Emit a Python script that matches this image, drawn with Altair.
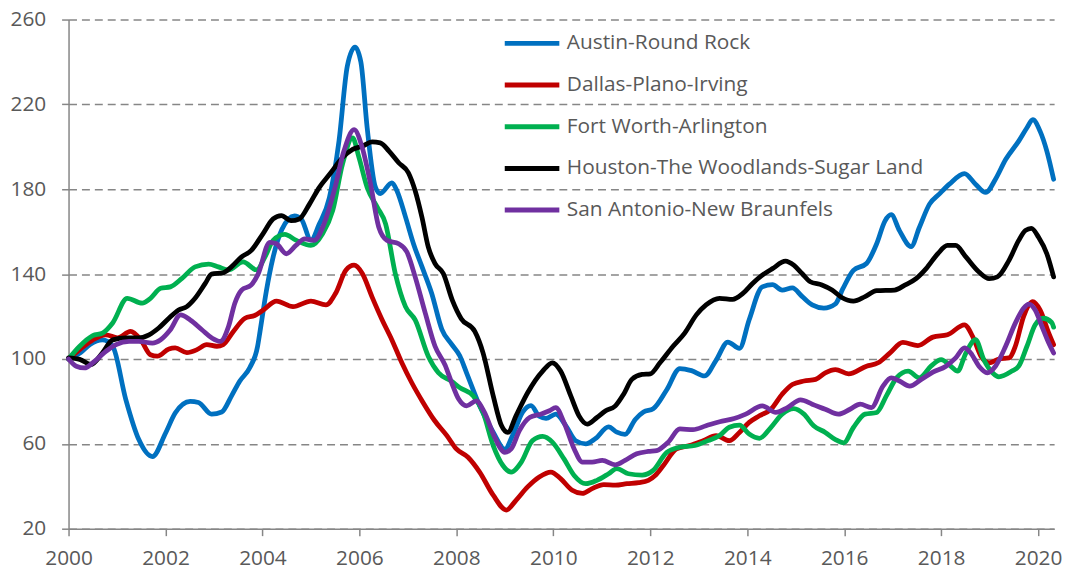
import altair as alt
import pandas as pd

names = ["Austin-Round Rock", "Dallas-Plano-Irving", "Fort Worth-Arlington",
         "Houston-The Woodlands-Sugar Land", "San Antonio-New Braunfels"]
colors = ["#0070C0", "#C00000", "#00B050", "#000000", "#7030A0"]

austin_years = [2000.00, 2000.25, 2000.45, 2000.70, 2000.91, 2001.18, 2001.45, 2001.73, 2002.00, 2002.20,
                2002.51, 2002.68, 2002.95, 2003.16, 2003.36, 2003.53, 2003.74, 2003.90, 2003.95, 2004.08,
                2004.22, 2004.40, 2004.66, 2004.80, 2005.00, 2005.17, 2005.38, 2005.58, 2005.75, 2005.91,
                2006.03, 2006.16, 2006.33, 2006.43, 2006.67, 2006.78, 2006.95, 2007.12, 2007.29, 2007.49,
                2007.70, 2007.90, 2008.07, 2008.21, 2008.48, 2008.76, 2009.00, 2009.16, 2009.37, 2009.54,
                2009.71, 2009.85, 2010.05, 2010.26, 2010.46, 2010.67, 2010.87, 2011.14, 2011.31, 2011.48,
                2011.69, 2011.86, 2012.06, 2012.34, 2012.61, 2012.85, 2013.12, 2013.36, 2013.60, 2013.84,
                2014.04, 2014.31, 2014.52, 2014.72, 2014.93, 2015.13, 2015.34, 2015.58, 2015.82, 2015.97,
                2016.19, 2016.46, 2016.67, 2016.84, 2016.97, 2017.14, 2017.38, 2017.55, 2017.76, 2017.96,
                2018.17, 2018.48, 2018.71, 2018.92, 2019.12, 2019.33, 2019.60, 2019.77, 2019.89, 2020.04,
                2020.18, 2020.32]
austin_values = [100, 103, 107, 109, 106, 81, 62, 54, 65, 74.5,
                 80, 79.5, 74, 75, 82.5, 89.5, 96, 106, 113, 132,
                 148, 161, 167.5, 166, 156, 163.5, 176, 203, 238, 247,
                 240, 209, 181, 178, 183, 179, 167, 154, 143.5, 131,
                 114, 107, 101.5, 93.5, 78, 65.5, 57.5, 64, 75, 78,
                 73, 72, 74, 68.5, 61.5, 60, 62.5, 68, 65.5, 64.5,
                 71.5, 75, 76.5, 85.5, 95.5, 94.5, 92, 99.5, 108, 105,
                 118.5, 134, 135, 132.5, 133.5, 129.5, 125.5, 124, 126, 133,
                 141.8, 145, 154.3, 165, 168, 160.5, 153, 162, 173, 177.7,
                 182.4, 187.4, 182.4, 178.5, 184.7, 194, 202.7, 209, 212.8, 207.4,
                 198, 184.7]

dallas_years = [2000.00, 2000.23, 2000.50, 2000.77, 2001.01, 2001.28, 2001.49, 2001.69, 2001.83, 2002.07,
                2002.20, 2002.44, 2002.65, 2002.85, 2003.06, 2003.19, 2003.40, 2003.64, 2003.84, 2004.01,
                2004.29, 2004.63, 2005.00, 2005.31, 2005.51, 2005.72, 2005.89, 2006.06, 2006.26, 2006.47,
                2006.67, 2006.88, 2007.08, 2007.30, 2007.55, 2007.80, 2008.00, 2008.24, 2008.48, 2008.76,
                2009.03, 2009.23, 2009.47, 2009.71, 2009.95, 2010.15, 2010.39, 2010.60, 2010.80, 2011.04,
                2011.28, 2011.52, 2011.76, 2011.96, 2012.10, 2012.27, 2012.54, 2012.81, 2013.09, 2013.36,
                2013.63, 2013.84, 2014.04, 2014.25, 2014.49, 2014.72, 2014.93, 2015.17, 2015.41, 2015.61,
                2015.82, 2016.09, 2016.46, 2016.70, 2016.94, 2017.21, 2017.52, 2017.83, 2018.13, 2018.48,
                2018.65, 2018.82, 2018.99, 2019.19, 2019.40, 2019.53, 2019.70, 2019.89, 2020.04, 2020.22,
                2020.32]
dallas_values = [100, 104.4, 109, 111.4, 110, 113, 109, 102, 101.3, 104.7,
                 105.2, 103, 104.4, 106.8, 106, 106.8, 113, 119.2, 120.5, 123,
                 127.3, 124.7, 127.3, 125.5, 131, 141.8, 144.2, 140.3, 129.3, 118.4,
                 109, 98, 88.8, 80, 71, 64, 57.6, 53.7, 46.7, 35.8,
                 28.8, 33.4, 39.7, 44.4, 46.7, 43.6, 38.1, 36.6, 38.9, 40.8,
                 40.5, 41.2, 41.7, 42.8, 45.1, 49.8, 57.6, 59.2, 61.5, 63.9,
                 61.5, 65.4, 70.1, 73.2, 76.3, 83.4, 88, 89.6, 90.4, 93.5,
                 95, 93, 96.6, 98.2, 102.8, 107.8, 106.3, 110.3, 111.4, 116.1,
                 110.6, 101.3, 98.2, 100, 100.5, 106, 120, 127, 123.1, 112.2,
                 106.7]

fortworth_years = [2000.00, 2000.23, 2000.50, 2000.70, 2000.91, 2001.21, 2001.52, 2001.69, 2001.90, 2002.10,
                   2002.34, 2002.61, 2002.89, 2003.09, 2003.30, 2003.60, 2003.88, 2004.05, 2004.22, 2004.46,
                   2004.69, 2005.00, 2005.24, 2005.45, 2005.65, 2005.86, 2005.99, 2006.16, 2006.37, 2006.54,
                   2006.74, 2006.95, 2007.15, 2007.42, 2007.63, 2007.90, 2008.07, 2008.35, 2008.55, 2008.76,
                   2008.96, 2009.13, 2009.34, 2009.57, 2009.78, 2009.98, 2010.22, 2010.43, 2010.67, 2010.90,
                   2011.14, 2011.31, 2011.55, 2011.83, 2012.06, 2012.34, 2012.61, 2012.92, 2013.19, 2013.43,
                   2013.63, 2013.84, 2014.04, 2014.25, 2014.49, 2014.72, 2014.96, 2015.17, 2015.37, 2015.61,
                   2015.82, 2015.99, 2016.19, 2016.43, 2016.67, 2016.87, 2017.08, 2017.32, 2017.55, 2017.79,
                   2018.00, 2018.20, 2018.34, 2018.51, 2018.71, 2018.88, 2019.06, 2019.19, 2019.46, 2019.60,
                   2019.77, 2019.94, 2020.11, 2020.28, 2020.32]
fortworth_values = [100, 106, 111, 112.2, 117, 128.6, 126.3, 128.6, 133.3, 134,
                    138, 143.4, 144.7, 143.4, 142, 145.8, 142, 148, 155.9, 158.7,
                    156, 153.5, 159, 170, 191.7, 204.2, 195, 180.8, 171.5, 163.7,
                    140.3, 124.7, 118.4, 101.3, 93.5, 89.5, 86.5, 82.6, 74.8, 59.2,
                    49.8, 46.7, 51.4, 61.5, 63.5, 60.8, 52.9, 45.1, 41.2, 42.8,
                    45.9, 48.3, 45.9, 45.3, 47.5, 56, 58.4, 59.2, 61.5, 63.9,
                    67.8, 68.8, 64.6, 62.6, 67.8, 74, 76.6, 74, 68.5, 65.4,
                    62, 60.5, 67.7, 74, 74.8, 82.6, 91.1, 94.3, 91.1, 96.6,
                    99.7, 96.6, 94.3, 102.8, 109.1, 99.7, 93.5, 91.6, 94.3, 96.6,
                    106, 116.1, 119.2, 117.2, 115]

houston_years = [2000.00, 2000.23, 2000.46, 2000.70, 2000.91, 2001.18, 2001.45, 2001.66, 2001.86, 2002.07,
                 2002.27, 2002.44, 2002.61, 2002.82, 2002.95, 2003.19, 2003.36, 2003.57, 2003.77, 2004.01,
                 2004.22, 2004.39, 2004.59, 2004.76, 2004.97, 2005.17, 2005.41, 2005.65, 2005.86, 2006.06,
                 2006.26, 2006.43, 2006.61, 2006.81, 2007.01, 2007.15, 2007.29, 2007.42, 2007.56, 2007.73,
                 2007.92, 2008.10, 2008.38, 2008.55, 2008.76, 2008.93, 2009.06, 2009.23, 2009.47, 2009.78,
                 2009.98, 2010.15, 2010.36, 2010.53, 2010.70, 2010.90, 2011.08, 2011.28, 2011.45, 2011.62,
                 2011.83, 2012.00, 2012.20, 2012.47, 2012.71, 2012.95, 2013.15, 2013.43, 2013.70, 2013.91,
                 2014.11, 2014.31, 2014.52, 2014.79, 2014.96, 2015.13, 2015.30, 2015.54, 2015.75, 2015.95,
                 2016.19, 2016.43, 2016.67, 2017.04, 2017.25, 2017.49, 2017.69, 2017.93, 2018.13, 2018.30,
                 2018.51, 2018.78, 2018.99, 2019.16, 2019.40, 2019.60, 2019.74, 2019.86, 2020.01, 2020.18,
                 2020.32]
houston_values = [100.5, 99.8, 97.4, 102.9, 109, 110, 110, 111.4, 114.6, 119.2,
                  123.1, 124.7, 128.6, 135.6, 140, 140.6, 143.4, 148.1, 151.2, 159,
                  166, 167.6, 165.2, 166, 173, 180.8, 187.8, 194.9, 198.8, 200.3,
                  202.3, 201.9, 198, 192.5, 187.8, 179.3, 166.8, 152.8, 145, 140.3,
                  127.5, 119, 113, 102.9, 82.6, 68.6, 65.4, 73.2, 84.1, 94.3,
                  98.2, 94.3, 82.6, 73.2, 69.3, 72.4, 75.6, 77.9, 83.4, 90.4,
                  92.7, 93, 98.2, 106, 112.2, 120.8, 125.5, 128.6, 128.1, 130.9,
                  135.6, 139.5, 142.6, 146.1, 144.2, 140.3, 136.4, 134.9, 132.5, 129,
                  127.3, 129.4, 132.2, 132.5, 134.8, 138, 142.6, 149.6, 153.5, 153.5,
                  148.1, 141, 137.9, 138.7, 146.5, 155.9, 160.6, 161.6, 157.4, 149.6,
                  138.7]

sanantonio_years = [2000.00, 2000.16, 2000.33, 2000.50, 2000.77, 2000.98, 2001.25, 2001.45, 2001.73, 2001.90,
                    2002.10, 2002.31, 2002.51, 2002.75, 2002.95, 2003.13, 2003.30, 2003.43, 2003.57, 2003.77,
                    2003.91, 2004.15, 2004.29, 2004.49, 2004.69, 2004.87, 2005.07, 2005.27, 2005.48, 2005.68,
                    2005.89, 2006.06, 2006.23, 2006.40, 2006.57, 2006.81, 2006.98, 2007.15, 2007.36, 2007.56,
                    2007.77, 2007.90, 2008.05, 2008.21, 2008.41, 2008.58, 2008.79, 2009.00, 2009.13, 2009.30,
                    2009.51, 2009.74, 2009.92, 2010.05, 2010.22, 2010.43, 2010.60, 2010.80, 2011.01, 2011.28,
                    2011.48, 2011.72, 2011.96, 2012.13, 2012.37, 2012.61, 2012.88, 2013.15, 2013.43, 2013.73,
                    2013.97, 2014.31, 2014.59, 2014.83, 2015.10, 2015.34, 2015.61, 2015.88, 2016.12, 2016.33,
                    2016.56, 2016.80, 2016.97, 2017.14, 2017.35, 2017.59, 2017.83, 2018.10, 2018.30, 2018.48,
                    2018.61, 2018.78, 2018.95, 2019.12, 2019.33, 2019.53, 2019.70, 2019.81, 2019.94, 2020.08,
                    2020.22, 2020.32]
sanantonio_values = [100, 96.6, 95.8, 98.2, 103.6, 106.8, 108.3, 108.3, 107.5, 109.1,
                     113.8, 120.8, 118.4, 113.8, 110, 108.3, 115.3, 126.3, 132.5, 134.9,
                     140, 155, 154.3, 149.6, 153.5, 156.6, 155.9, 163.7, 179.3, 198,
                     208.1, 199.5, 182.4, 162.1, 155.9, 154.3, 150.4, 138.7, 121.5, 106,
                     97, 89, 81, 77.9, 80.2, 74.8, 63.1, 56, 57.6, 66.2,
                     72.4, 74, 75.6, 77.1, 70.1, 57.6, 51.4, 51.4, 52.2, 50.1,
                     52.2, 55.3, 56.4, 56.8, 60.8, 67, 66.7, 68.5, 70.4, 71.9,
                     74, 77.9, 74.8, 77.1, 80.7, 78.7, 76.3, 74, 76.3, 78.7,
                     77.1, 87.2, 91.1, 89.6, 87.2, 90.4, 93.8, 96.6, 100.5, 105.2,
                     102.8, 96.6, 93.5, 96.6, 106, 116.9, 123.9, 125.9, 123.1, 115.3,
                     107.5, 102.8]

y_ticks = [20, 60, 100, 140, 180, 220, 260]
x_ticks = [2000, 2002, 2004, 2006, 2008, 2010, 2012, 2014, 2016, 2018, 2020]

series = [
    (names[0], austin_years, austin_values),
    (names[1], dallas_years, dallas_values),
    (names[2], fortworth_years, fortworth_values),
    (names[3], houston_years, houston_values),
    (names[4], sanantonio_years, sanantonio_values),
]
rows = []
for order, (name, ys, vs) in enumerate(series):
    for yr, v in zip(ys, vs):
        rows.append({"metro": name, "year": yr, "value": v, "order": order})
df = pd.DataFrame(rows)

FONT = "Open Sans"
GREY_TEXT = "#595959"
GREY_LINE = "#868686"

chart = alt.Chart(df).mark_line(
    strokeWidth=4.8, interpolate="monotone", strokeCap="round", strokeJoin="round"
).encode(
    x=alt.X("year:Q",
            scale=alt.Scale(domain=[2000, 2020.33], nice=False, zero=False),
            axis=alt.Axis(values=x_ticks, format="d", title=None, grid=False,
                          tickSize=7, tickColor=GREY_LINE, tickWidth=1.5,
                          domainColor=GREY_LINE, domainWidth=1.5,
                          labelFont=FONT, labelFontSize=21, labelColor=GREY_TEXT,
                          labelPadding=12, labelFlush=False)),
    y=alt.Y("value:Q",
            scale=alt.Scale(domain=[20, 260], nice=False, zero=False),
            axis=alt.Axis(values=y_ticks, title=None, grid=True,
                          gridColor=GREY_LINE, gridDash=[8, 5], gridWidth=1.5,
                          tickSize=7, tickColor=GREY_LINE, tickWidth=1.5,
                          domainColor=GREY_LINE, domainWidth=1.5,
                          labelFont=FONT, labelFontSize=21, labelColor=GREY_TEXT,
                          labelPadding=16)),
    color=alt.Color("metro:N",
                    scale=alt.Scale(domain=names, range=colors),
                    legend=alt.Legend(title=None, orient="none", legendX=437, legendY=12,
                                      symbolType="stroke", symbolSize=3025,
                                      symbolStrokeWidth=5, clipHeight=24,
                                      rowPadding=18, labelOffset=5, padding=0,
                                      labelFont=FONT, labelFontSize=21,
                                      labelColor=GREY_TEXT, labelLimit=500)),
    order=alt.Order("order:Q"),
).properties(
    width=993, height=513,
    autosize=alt.AutoSizeParams(type="none"),
    padding={"left": 61, "top": 9.5, "right": 14, "bottom": 42},
).configure_view(stroke=None)

chart.save("out.html", embed_options={"renderer": "svg", "actions": False})
